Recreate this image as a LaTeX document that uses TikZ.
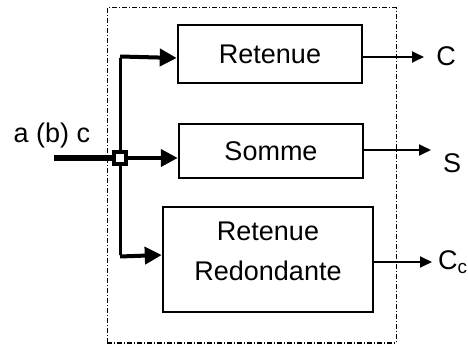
\documentclass[tikz,border=0pt]{standalone}
\usepackage{fontspec}
\setmainfont{Liberation Sans}
\usetikzlibrary{arrows.meta,calc}
\begin{document}
\begin{tikzpicture}[x=1pt,y=-1pt,
  blk/.style={draw,line width=2.5pt,fill=white,inner sep=0pt,font=\fontsize{27}{40}\selectfont,align=center},
  lbl/.style={font=\fontsize{27}{32}\selectfont,inner sep=0pt},
  bigarrow/.style={line width=4pt,-{Triangle[length=17pt,width=17pt]}},
  outarrow/.style={line width=1.8pt,-{Triangle[length=12pt,width=11pt]}},
  frame/.style={line width=1pt,dash pattern=on 5pt off 2pt on 1pt off 2pt}]
\useasboundingbox (0,0) rectangle (468,347);
\draw[frame] (107,343) -- (107,8) -- (396,8) -- (396,343);
\draw[frame,line width=2pt] (107,343) -- (396,343);
\node[blk,minimum width=184pt,minimum height=58pt] (ret) at (270,54) {Retenue};
\node[blk,minimum width=184pt,minimum height=54pt] (som) at (271,151) {Somme};
\node[blk,minimum width=210pt,minimum height=105pt,text depth=16pt] (red) at (268,259.5) {Retenue\\Redondante};
\coordinate (in) at (54,158);
\coordinate (top) at (120,58);
\coordinate (bot) at (120,255);
\coordinate (oc) at (424,57);
\coordinate (os) at (431,150);
\coordinate (occ) at (432,262);
\node[lbl,anchor=base] (a) at (52,143) {a (b) c};
\draw[line width=3pt] (top) -- (bot);
\draw[line width=5.5pt] (in) -- (120,158);
\draw[bigarrow] (120,158) -- (som.west |- 0,158);
\draw[bigarrow] ([yshift=1.5pt]top) -- (top -| ret.west);
\draw[bigarrow] ([yshift=-1.5pt]bot) -- (bot -| red.west);
\node[draw,line width=3.5pt,fill=white,minimum size=12pt,inner sep=0pt] (j) at (120,158) {};
\draw[outarrow] (ret.east |- oc) -- (oc);
\draw[outarrow] (som.east |- os) -- (os);
\draw[outarrow] (red.east |- occ) -- (occ);
\node[lbl] (c) at (446,56) {C};
\node[lbl] (s) at (452,163) {S};
\node[lbl,anchor=west] (cc) at (438,262) {C\textsubscript{c}};
\end{tikzpicture}
\end{document}
